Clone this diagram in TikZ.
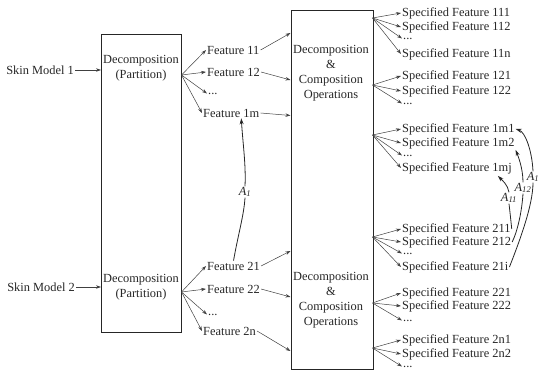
\documentclass[tikz,border=0pt]{standalone}
\usepackage{fontspec}
\setmainfont{Liberation Serif}
\usetikzlibrary{arrows.meta,calc}
\newcommand\tdots{...}
\begin{document}
\begin{tikzpicture}[x=1pt,y=-1pt,
  every node/.style={font=\fontsize{12.4}{15}\selectfont, text=black!85, inner sep=1pt},
  box/.style={draw=black!85, line width=0.9pt, inner sep=0pt, anchor=north west},
  lbl/.style={anchor=west},
  dotlbl/.style={anchor=west, text height=2pt, text depth=0pt},
  arr/.style={draw=black!75, line width=0.5pt, -{Stealth[length=5pt,width=3.4pt]}},
  bendarr/.style={draw=black!85, line width=0.8pt, -{Stealth[length=6pt,width=4pt]}},
  bendline/.style={draw=black!85, line width=0.8pt},
  alab/.style={font=\fontsize{12.4}{14}\itshape, inner sep=0.5pt},
]
\useasboundingbox (0,0) rectangle (542,374);

% the two processing blocks
\node[box, minimum width=80pt, minimum height=298pt] (lb) at (101,34) {};
\node[box, minimum width=82pt, minimum height=359pt] (mb) at (290.5,10) {};

\node[align=center] (dp1) at (141,68) {Decomposition\\(Partition)};
\node[align=center] (dp2) at (141,287.5) {Decomposition\\(Partition)};
\node[align=center] (dc1) at (331,73.5) {Decomposition\\\&\\Composition\\Operations};
\node[align=center] (dc2) at (331,300) {Decomposition\\\&\\Composition\\Operations};

% inputs
\node[anchor=east] (s1) at (75,70) {Skin Model 1};
\node[anchor=east] (s2) at (76,287) {Skin Model 2};
\draw[arr] (s1) -- (s1 -| lb.west);
\draw[arr] (s2) -- (s2 -| lb.west);

% features of skin model 1
\node[lbl] (f11) at (206,50) {Feature 11};
\node[lbl] (f12) at (206,72) {Feature 12};
\node[dotlbl] (f1d) at (207,93.5) {\tdots};
\node[lbl] (f1m) at (202,113) {Feature 1m};
\coordinate (o1) at (181.5,75);
\foreach \t in {f11,f12,f1d,f1m} \draw[arr] (o1) -- (\t.west);

% features of skin model 2
\node[lbl] (f21) at (206,266) {Feature 21};
\node[lbl] (f22) at (206,289) {Feature 22};
\node[dotlbl] (f2d) at (207,314.5) {\tdots};
\node[lbl] (f2n) at (202,331) {Feature 2n};
\coordinate (o2) at (181.5,292);
\foreach \t in {f21,f22,f2d,f2n} \draw[arr] (o2) -- (\t.west);

% features into the operations block
\coordinate (m11) at (290.5,33);
\coordinate (m12) at (290.5,80);
\coordinate (m1m) at (290.5,115.5);
\coordinate (m21) at (290.5,251);
\coordinate (m22) at (290.5,297);
\coordinate (m2n) at (290.5,351);
\draw[arr] (f11.east) -- (m11);
\draw[arr] (f12.east) -- (m12);
\draw[arr] (f1m.east) -- (m1m);
\draw[arr] (f21.east) -- (m21);
\draw[arr] (f22.east) -- (m22);
\draw[arr] (f2n.east) -- (m2n);

% specified features
\foreach \n/\txt/\y in {
  sf111/Specified Feature 111/13, sf112/Specified Feature 112/27, sf11n/Specified Feature 11n/54,
  sf121/Specified Feature 121/76, sf122/Specified Feature 122/91,
  sf1m1/Specified Feature 1m1/129, sf1m2/Specified Feature 1m2/143, sf1mj/Specified Feature 1mj/168,
  sf211/Specified Feature 211/229, sf212/Specified Feature 212/242, sf21i/Specified Feature 21i/267,
  sf221/Specified Feature 221/293, sf222/Specified Feature 222/306,
  sf2n1/Specified Feature 2n1/340, sf2n2/Specified Feature 2n2/354}
  \node[lbl] (\n) at (401,\y) {\txt};
\foreach \n/\y in {sf11d/38.5, sf12d/103.5, sf1md/155.5, sf21d/253.5, sf22d/320.5, sf2nd/366.5}
  \node[dotlbl] (\n) at (402,\y) {\tdots};

\coordinate (g1) at (372.5,18);
\coordinate (g2) at (372.5,85);
\coordinate (g3) at (372.5,135);
\coordinate (g4) at (372.5,237);
\coordinate (g5) at (372.5,303);
\coordinate (g6) at (372.5,348);
\foreach \t in {sf111,sf112,sf11d,sf11n} \draw[arr] (g1) -- (\t.west);
\foreach \t in {sf121,sf122,sf12d} \draw[arr] (g2) -- (\t.west);
\foreach \t in {sf1m1,sf1m2,sf1md,sf1mj} \draw[arr] (g3) -- (\t.west);
\foreach \t in {sf211,sf212,sf21d,sf21i} \draw[arr] (g4) -- (\t.west);
\foreach \t in {sf221,sf222,sf22d} \draw[arr] (g5) -- (\t.west);
\foreach \t in {sf2n1,sf2n2,sf2nd} \draw[arr] (g6) -- (\t.west);

% correspondences between the two models
\node[alab] (a1) at (245,192) {A\textsubscript{1}};
\draw[bendline] (f21.north) .. controls (238,235) and (244,215) .. (a1.south);
\draw[bendarr] (a1.north) .. controls (246,165) and (243,145) .. ($(f1m.south)+(10,0)$);

\node[alab] (a11) at (509,198) {A\textsubscript{11}};
\draw[bendline] (sf211.east) .. controls (511,222) and (510,212) .. (a11.south);
\draw[bendarr] (a11.north) .. controls (508,185) and (502,180) .. ($(sf1mj.south east)+(-15,1)$);

\node[alab] (a12) at (523,188) {A\textsubscript{12}};
\draw[bendline] (sf212.east) .. controls (518,230) and (522,210) .. (a12.south);
\draw[bendarr] (a12.north) .. controls (523,168) and (518,156) .. (sf1m2.south east);

\node[alab] (a13) at (533,177) {A\textsubscript{1}};
\draw[bendline] (sf21i.east) .. controls (520,240) and (533,205) .. (a13.south);
\draw[bendarr] (a13.north) .. controls (532,150) and (525,132) .. (sf1m1.east);
\end{tikzpicture}
\end{document}
